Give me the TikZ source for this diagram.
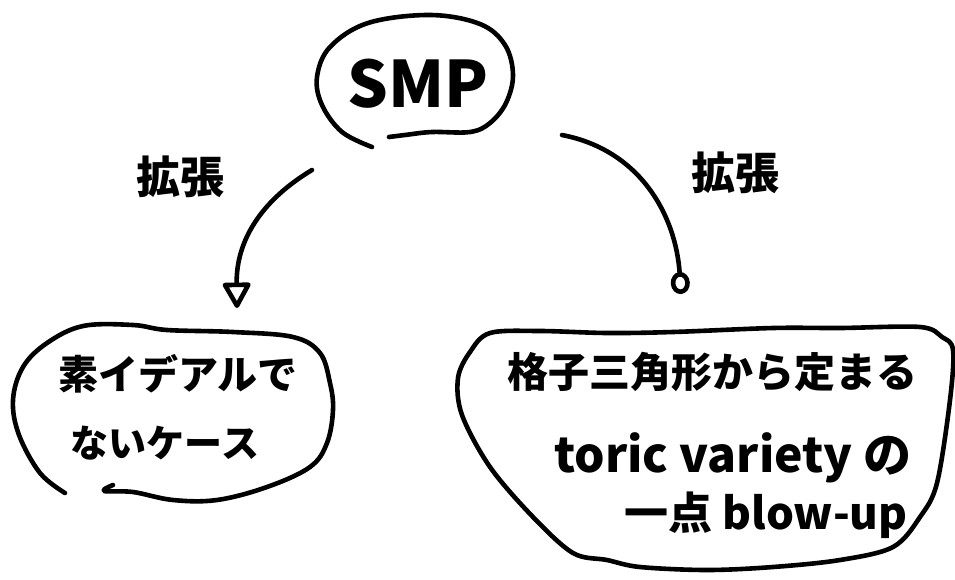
\documentclass[tikz,border=0pt]{standalone}
\usepackage{fontspec}
\setmainfont{Noto Sans CJK JP}
\usetikzlibrary{arrows.meta}
\tikzset{
  hand/.style={line width=4.6pt, line cap=round, line join=round},
  txt/.style={inner sep=0pt, font=\fontsize{#1}{#1}\selectfont\bfseries}
}
\begin{document}
\begin{tikzpicture}[x=1pt,y=-1pt]
\useasboundingbox (0,0) rectangle (955,579);

% texts
\node[txt=64] (smp) at (418,84) {SMP};
\node[txt=44] (lblL) at (180,177) {拡張};
\node[txt=44] (lblR) at (735,173) {拡張};
\node[txt=40] (left1) at (178,374) {素イデアルで};
\node[txt=38] (left2) at (165,443) {ないケース};
\node[txt=41] (right1) at (712,372) {格子三角形から定まる};
\node[txt=48] (right2) at (733,458) {toric variety の};
\node[txt=44] (right3) at (766,515) {一点 blow-up};

% SMP outline
\draw[hand] plot[smooth, tension=0.6] coordinates {
  (372,147) (342,132) (322,105) (317,77) (330,47) (368,23) (430,15)
  (480,24) (505,45) (513,75) (506,103) (490,123) (470,132) (432,132)
  (405,135) (389,137)};

% left outline
\draw[hand] plot[smooth, tension=0.6] coordinates {
  (65,493) (40,473) (19,435) (13,400) (23,367) (47,343) (83,326)
  (133,325) (167,330) (233,332) (293,337) (320,353) (330,383)
  (333,410) (327,443) (310,467) (267,487) (217,500) (173,500)
  (133,492) (104,491) (113,485)};

% right outline
\draw[hand] plot[smooth cycle, tension=0.55] coordinates {
  (458,378) (470,352) (490,333) (540,331) (607,333) (673,332)
  (773,328) (840,328) (920,327) (942,337) (953,350) (950,400)
  (937,483) (920,517) (893,547) (840,560) (773,567) (707,570)
  (640,567) (607,560) (573,553) (533,517) (490,467) (462,415)};

% connectors
\coordinate (ls) at (312,170);
\coordinate (le) at (237,308);
\coordinate (rs) at (562,135);
\coordinate (re) at (681,294);
\draw[hand, -{Triangle[open, round, length=28pt, width=30pt]}] (ls) .. controls (262,200) and (236,240) .. (le);
\draw[hand, -{Circle[open, length=22pt, width=19pt]}] (rs) .. controls (640,150) and (676,215) .. (re);
\end{tikzpicture}
\end{document}
